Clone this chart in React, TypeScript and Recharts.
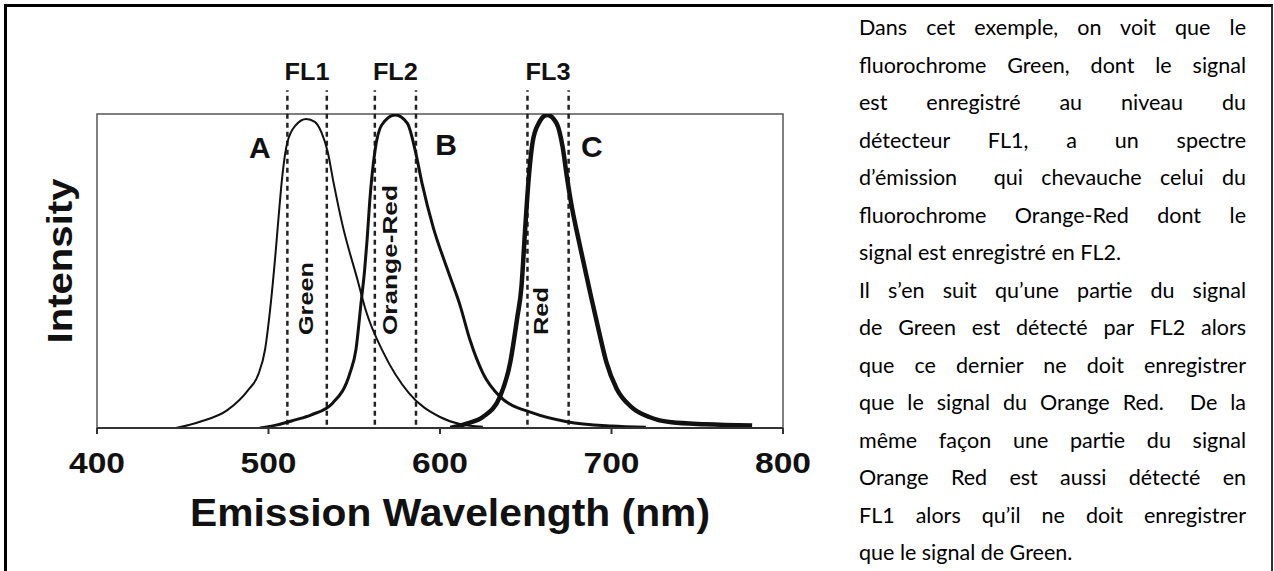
import React from 'react';
import {
  LineChart,
  Line,
  XAxis,
  YAxis,
  ReferenceLine,
  ReferenceArea,
  ReferenceDot,
  Label
} from 'recharts';

// emission spectra: wavelength (nm) / relative intensity
const greenWl = [446, 460, 476, 488, 494, 498, 501, 504, 506, 508, 511, 516, 522, 527, 531, 534.5, 538, 543, 552, 557, 567, 582, 600, 612, 625];
const greenI = [0, 0.02, 0.057, 0.12, 0.17, 0.25, 0.38, 0.55, 0.68, 0.8, 0.91, 0.965, 0.984, 0.975, 0.94, 0.88, 0.78, 0.65, 0.47, 0.37, 0.24, 0.11, 0.035, 0.012, 0.004];

const orangeRedWl = [495, 505, 515, 525, 537.5, 547.5, 551, 554, 556, 557.5, 559, 562, 566, 574, 581, 585.5, 589.5, 596, 604, 612, 617.5, 625, 635, 654, 674, 700, 720];
const orangeRedI = [0, 0.01, 0.025, 0.042, 0.08, 0.175, 0.25, 0.4, 0.5, 0.6, 0.72, 0.88, 0.965, 0.997, 0.97, 0.885, 0.78, 0.64, 0.51, 0.385, 0.28, 0.175, 0.1, 0.048, 0.02, 0.006, 0.002];

const redWl = [606, 616, 625, 635, 641, 645, 647.5, 649.5, 651.5, 654, 657.5, 662.5, 668, 671.5, 674, 677, 680, 684, 688, 693, 697, 703, 712, 722, 735, 755, 782];
const redI = [0, 0.015, 0.035, 0.1, 0.21, 0.35, 0.45, 0.62, 0.78, 0.91, 0.97, 0.997, 0.97, 0.895, 0.8, 0.7, 0.62, 0.52, 0.42, 0.3, 0.21, 0.125, 0.065, 0.035, 0.018, 0.012, 0.008];

const xTicks = [400, 500, 600, 700, 800];

// detector band pass windows
const filterNames = ['FL1', 'FL2', 'FL3'];
const filterLo = [511, 562, 651];
const filterHi = [534, 586, 675];

// dye labels sit at the peak of each curve
const dyeNames = ['Green', 'Orange-Red', 'Red'];
const dyeWl = [526, 575, 663];
const dyeLen = [73, 150, 48];

const curveLetters = ['A', 'B', 'C'];
const letterWl = [495, 603.5, 688.6];
const letterI = [0.86, 0.87, 0.863];

const paragraph = [
  'Dans cet exemple, on voit que le',
  'fluorochrome Green, dont le signal',
  'est enregistré au niveau du',
  'détecteur FL1, a un spectre',
  'd’émission\u00a0 qui chevauche celui du',
  'fluorochrome Orange-Red dont le',
  'signal est enregistré en FL2.',
  'Il s’en suit qu’une partie du signal',
  'de Green est détecté par FL2 alors',
  'que ce dernier ne doit enregistrer',
  'que le signal du Orange Red.\u00a0 De la',
  'même façon une partie du signal',
  'Orange Red est aussi détecté en',
  'FL1 alors qu’il ne doit enregistrer',
  'que le signal de Green.'
];
const lastLines = [6, 14];

const toPoints = (wl: number[], v: number[]) => wl.map((w, i) => ({ wl: w, v: v[i] }));

const greenData = toPoints(greenWl, greenI);
const orangeRedData = toPoints(orangeRedWl, orangeRedI);
const redData = toPoints(redWl, redI);

const FONT = '"Liberation Sans", Arial, sans-serif';
const INK = '#111';

const renderTick = (props: any) => (
  <text
    x={props.x}
    y={props.y}
    dy={37}
    textAnchor="middle"
    fontFamily={FONT}
    fontWeight="bold"
    fontSize={30}
    textLength={56}
    lengthAdjust="spacingAndGlyphs"
    fill={INK}
  >
    {props.payload.value}
  </text>
);

export default function App() {
  return (
    <div
      style={{
        position: 'absolute',
        left: 0,
        top: 0,
        width: 1274,
        height: 571,
        overflow: 'hidden',
        background: '#fff'
      }}
    >
      <div
        style={{
          position: 'absolute',
          left: 4,
          top: 4,
          width: 1269,
          height: 620,
          boxSizing: 'border-box',
          borderTop: '3px solid #000',
          borderLeft: '3px solid #000',
          borderRight: '2px solid #333'
        }}
      />

      <div style={{ position: 'absolute', left: 0, top: 0 }}>
        <LineChart width={830} height={571} margin={{ top: 114, right: 47, bottom: 0, left: 0 }}>
          <XAxis
            type="number"
            dataKey="wl"
            domain={[400, 800]}
            ticks={xTicks}
            allowDataOverflow
            height={143}
            stroke="#333"
            strokeWidth={2}
            tickSize={6}
            tick={renderTick}
          >
            <Label
              content={(p: any) => {
                const vb = p.viewBox;
                return (
                  <text
                    x={vb.x + vb.width / 2 + 10}
                    y={vb.y + 98}
                    textAnchor="middle"
                    fontFamily={FONT}
                    fontWeight="bold"
                    fontSize={39}
                    textLength={520}
                    lengthAdjust="spacingAndGlyphs"
                    fill={INK}
                  >
                    Emission Wavelength (nm)
                  </text>
                );
              }}
            />
          </XAxis>
          <YAxis
            type="number"
            domain={[0, 1]}
            allowDataOverflow
            width={97}
            tick={false}
            tickLine={false}
            axisLine={false}
          >
            <Label
              content={(p: any) => {
                const vb = p.viewBox;
                const x = vb.x + 72;
                const y = vb.y + vb.height / 2 - 10;
                return (
                  <text
                    x={x}
                    y={y}
                    transform={`rotate(-90 ${x} ${y})`}
                    textAnchor="middle"
                    fontFamily={FONT}
                    fontWeight="bold"
                    fontSize={35}
                    textLength={165}
                    lengthAdjust="spacingAndGlyphs"
                    fill={INK}
                  >
                    Intensity
                  </text>
                );
              }}
            />
          </YAxis>

          <ReferenceArea x1={400} x2={800} y1={0} y2={1} fill="none" stroke="#555" strokeWidth={1.5} />

          {filterNames.map((name, i) => [filterLo[i], filterHi[i]].map((w, j) => (
            <ReferenceLine
              key={name + j}
              segment={[{ x: w, y: 0.01 }, { x: w, y: 1.076 }]}
              ifOverflow="visible"
              stroke="#222"
              strokeWidth={2.5}
              strokeDasharray="5 4"
            />
          )))}

          {filterNames.map((name, i) => (
            <ReferenceDot
              key={name}
              x={(filterLo[i] + filterHi[i]) / 2}
              y={1.076}
              r={0}
              ifOverflow="visible"
              shape={(p: any) => (
                <text
                  x={p.cx}
                  y={p.cy - 10}
                  textAnchor="middle"
                  fontFamily={FONT}
                  fontWeight="bold"
                  fontSize={24}
                  textLength={45}
                  lengthAdjust="spacingAndGlyphs"
                  fill={INK}
                >
                  {name}
                </text>
              )}
            />
          ))}

          {dyeNames.map((name, i) => (
            <ReferenceDot
              key={name}
              x={dyeWl[i]}
              y={0.296}
              r={0}
              ifOverflow="visible"
              shape={(p: any) => (
                <text
                  x={p.cx}
                  y={p.cy}
                  transform={`rotate(-90 ${p.cx} ${p.cy})`}
                  textAnchor="start"
                  fontFamily={FONT}
                  fontWeight="bold"
                  fontSize={21}
                  textLength={dyeLen[i]}
                  lengthAdjust="spacingAndGlyphs"
                  fill={INK}
                >
                  {name}
                </text>
              )}
            />
          ))}

          {curveLetters.map((name, i) => (
            <ReferenceDot
              key={name}
              x={letterWl[i]}
              y={letterI[i]}
              r={0}
              ifOverflow="visible"
              shape={(p: any) => (
                <text
                  x={p.cx}
                  y={p.cy}
                  textAnchor="middle"
                  fontFamily={FONT}
                  fontWeight="bold"
                  fontSize={30}
                  fill={INK}
                >
                  {name}
                </text>
              )}
            />
          ))}

          <Line data={greenData} dataKey="v" type="monotone" stroke={INK} strokeWidth={2} dot={false} isAnimationActive={false} />
          <Line data={orangeRedData} dataKey="v" type="monotone" stroke={INK} strokeWidth={3} dot={false} isAnimationActive={false} />
          <Line data={redData} dataKey="v" type="monotone" stroke={INK} strokeWidth={4.5} dot={false} isAnimationActive={false} />
        </LineChart>
      </div>

      <div
        style={{
          position: 'absolute',
          left: 859,
          top: 9,
          width: 387,
          fontFamily: 'Lato, "Open Sans", sans-serif',
          fontSize: 21.5,
          lineHeight: '37.5px',
          color: '#000'
        }}
      >
        {paragraph.map((line, i) => (
          <div
            key={i}
            style={{
              whiteSpace: 'nowrap',
              textAlign: lastLines.includes(i) ? 'left' : 'justify',
              textAlignLast: lastLines.includes(i) ? 'left' : 'justify'
            }}
          >
            {line}
          </div>
        ))}
      </div>
    </div>
  );
}
